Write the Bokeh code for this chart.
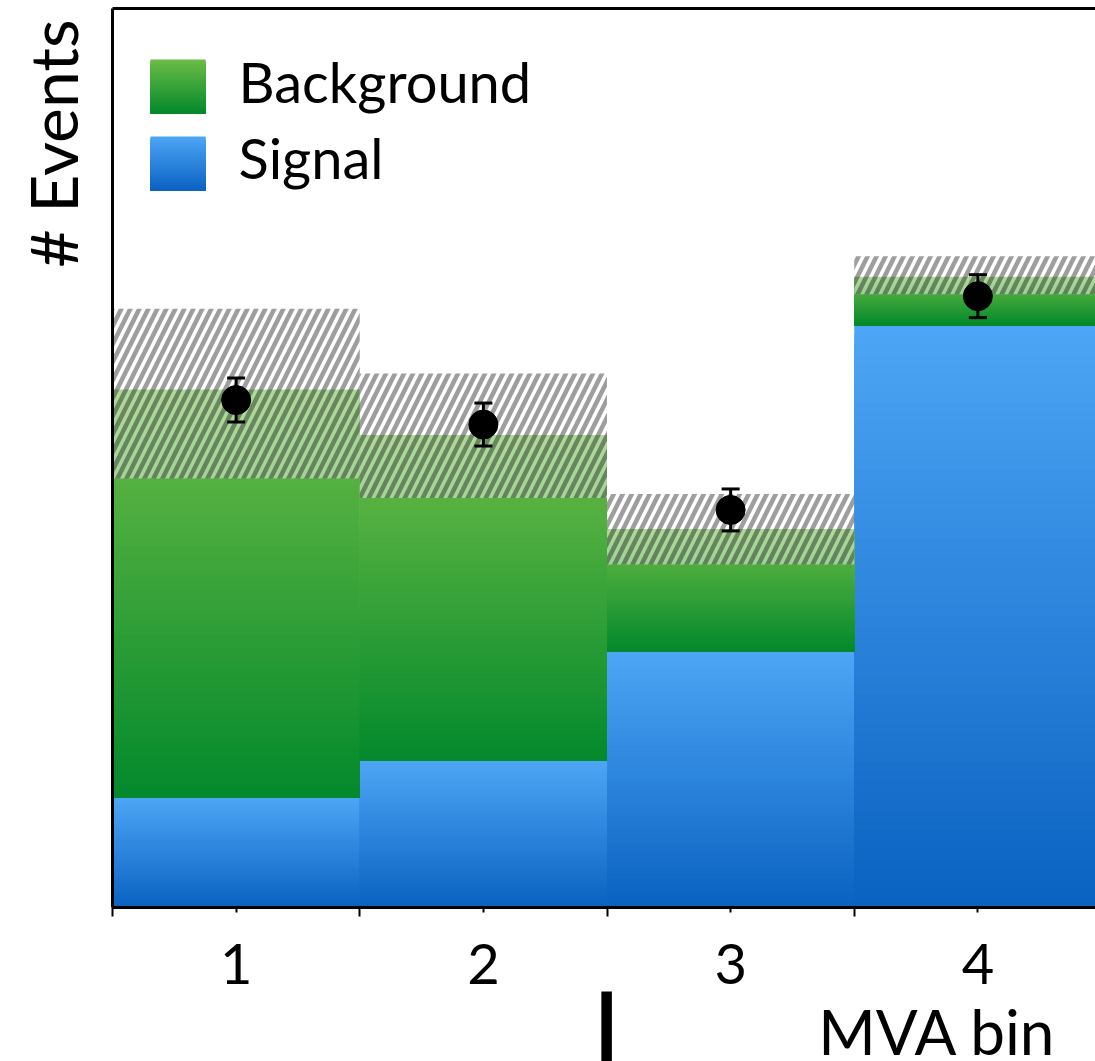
import numpy as np
from bokeh.plotting import figure
from bokeh.models import Range1d, FixedTicker, LinearAxis
from bokeh.core.properties import value
from bokeh.embed import file_html
from bokeh.resources import INLINE

# ---- data -------------------------------------------------------------
bins = [1, 2, 3, 4]
bin_edges = [0.5, 1.5, 2.5, 3.5, 4.5]
signal = [22.0, 29.4, 51.3, 116.6]
background = [81.7, 65.2, 24.5, 9.7]
unc_down = [17.8, 12.6, 7.1, 3.5]
unc_up = [16.2, 12.3, 7.0, 4.1]
observed = [101.6, 96.7, 79.6, 122.4]
observed_err = [4.4, 4.3, 4.2, 4.3]
tick_labels = ["1", "2", "3", "4"]
legend_labels = ["Background", "Signal"]
y_max = 180.0

# ---- styling ----------------------------------------------------------
FONT = "Lato"
SIG_TOP, SIG_BOT = (78, 166, 246), (10, 98, 193)
BKG_TOP, BKG_BOT = (108, 188, 70), (3, 137, 44)

W, H = 1095, 1061
AX_LEFT, AX_TOP, AX_BOTTOM = 112, 8, 907      # pixel position of the drawn frame
BIN_PX = 247.25                                # pixels per bin
ppu = (AX_BOTTOM - AX_TOP) / y_max             # pixels per event


def px_x(px):
    return bin_edges[0] + (px - AX_LEFT) / BIN_PX


def px_y(py):
    return (AX_BOTTOM - py) / ppu


def mix(c0, c1, t):
    return "#%02x%02x%02x" % tuple(int(round(a + (b - a) * t)) for a, b in zip(c0, c1))


def gradient_boxes(lefts, rights, bottoms, tops, c_top, c_bot, n=60):
    """Vertical gradient per box, built from overlapping strips."""
    L, R, B, T, C = [], [], [], [], []
    for l, r, b, t in zip(lefts, rights, bottoms, tops):
        for k in range(n):
            L.append(l)
            R.append(r)
            B.append(b)
            T.append(t - (t - b) * k / n)
            C.append(mix(c_top, c_bot, (k + 0.5) / n))
    return dict(left=L, right=R, bottom=B, top=T, color=C)


p = figure(width=W, height=H, output_backend="svg", toolbar_location=None,
           x_range=Range1d(px_x(0), px_x(W)), y_range=Range1d(px_y(H), px_y(0)),
           x_axis_location=None, y_axis_location=None,
           min_border_left=0, min_border_right=0, min_border_top=0, min_border_bottom=0)
p.grid.visible = False
p.outline_line_color = None
p.background_fill_color = "white"
p.border_fill_color = "white"

lefts = bin_edges[:-1]
rights = bin_edges[1:]
zeros = [0.0] * len(bins)
stack_top = [s + b for s, b in zip(signal, background)]

# stacked histogram
sig = gradient_boxes(lefts, rights, zeros, signal, SIG_TOP, SIG_BOT)
p.quad(left=sig["left"], right=sig["right"], bottom=sig["bottom"], top=sig["top"],
       fill_color=sig["color"], line_color=None)
bkg = gradient_boxes(lefts, rights, signal, stack_top, BKG_TOP, BKG_BOT)
p.quad(left=bkg["left"], right=bkg["right"], bottom=bkg["bottom"], top=bkg["top"],
       fill_color=bkg["color"], line_color=None)

# uncertainty band
band_lo = [t - d for t, d in zip(stack_top, unc_down)]
band_hi = [t + u for t, u in zip(stack_top, unc_up)]
p.quad(left=lefts, right=rights, bottom=band_lo, top=band_hi,
       fill_color="white", fill_alpha=0.45, line_color=None,
       hatch_pattern="/", hatch_color="black", hatch_alpha=0.38,
       hatch_weight=4.5, hatch_scale=18)

# frame: left and top edges of the plotting area
p.segment(x0=[bin_edges[0], bin_edges[0]], y0=[0, y_max],
          x1=[bin_edges[0], bin_edges[-1]], y1=[y_max, y_max],
          line_color="black", line_width=3)

# observed points with error bars
err_lo = [v - e for v, e in zip(observed, observed_err)]
err_hi = [v + e for v, e in zip(observed, observed_err)]
p.segment(x0=bins, y0=err_lo, x1=bins, y1=err_hi, line_color="black", line_width=3)
p.scatter(x=bins + bins, y=err_lo + err_hi, marker="dash", size=18,
          line_color="black", line_width=3)
p.scatter(x=bins, y=observed, size=29, fill_color="black", line_color="black")

# legend
leg_rows = [(59, 113, 81, BKG_TOP, BKG_BOT), (136, 190, 157, SIG_TOP, SIG_BOT)]
for (y0, y1, ty, ct, cb), name in zip(leg_rows, legend_labels):
    g = gradient_boxes([px_x(150)], [px_x(205)], [px_y(y1)], [px_y(y0)], ct, cb)
    p.quad(left=g["left"], right=g["right"], bottom=g["bottom"], top=g["top"],
           fill_color=g["color"], line_color=None)
    p.text(x=[px_x(238)], y=[px_y(ty)], text=[name], text_font=value(FONT),
           text_font_size="56px", text_color="black",
           text_align="left", text_baseline="middle")

# x axis along y = 0
xaxis = LinearAxis(ticker=FixedTicker(ticks=bins, minor_ticks=bin_edges),
                   major_label_overrides={b: t for b, t in zip(bins, tick_labels)},
                   fixed_location=0, bounds=(bin_edges[0], bin_edges[-1]))
xaxis.axis_line_width = 3
xaxis.axis_line_color = "black"
xaxis.major_tick_in = 0
xaxis.major_tick_out = 5
xaxis.minor_tick_in = 0
xaxis.minor_tick_out = 9
xaxis.major_tick_line_width = 2
xaxis.minor_tick_line_width = 2
xaxis.major_label_text_font = FONT
xaxis.major_label_text_font_size = "56px"
xaxis.major_label_text_color = "black"
xaxis.major_label_standoff = 27
p.add_layout(xaxis, "below")

# axis titles
p.text(x=[px_x(52)], y=[px_y(19)], text=["# Events"], angle=np.pi / 2,
       text_font=value(FONT), text_font_size="66px", text_color="black",
       text_align="right", text_baseline="middle")
p.text(x=[px_x(1056)], y=[px_y(1030)], text=["MVA bin"],
       text_font=value(FONT), text_font_size="62px", text_color="black",
       text_align="right", text_baseline="middle")
p.text(x=[px_x(606)], y=[px_y(1032)], text=["|"],
       text_font=value(FONT), text_font_size="110px", text_font_style="bold",
       text_color="black", text_align="center", text_baseline="middle")

open("out.html", "w").write(file_html(p, INLINE))
